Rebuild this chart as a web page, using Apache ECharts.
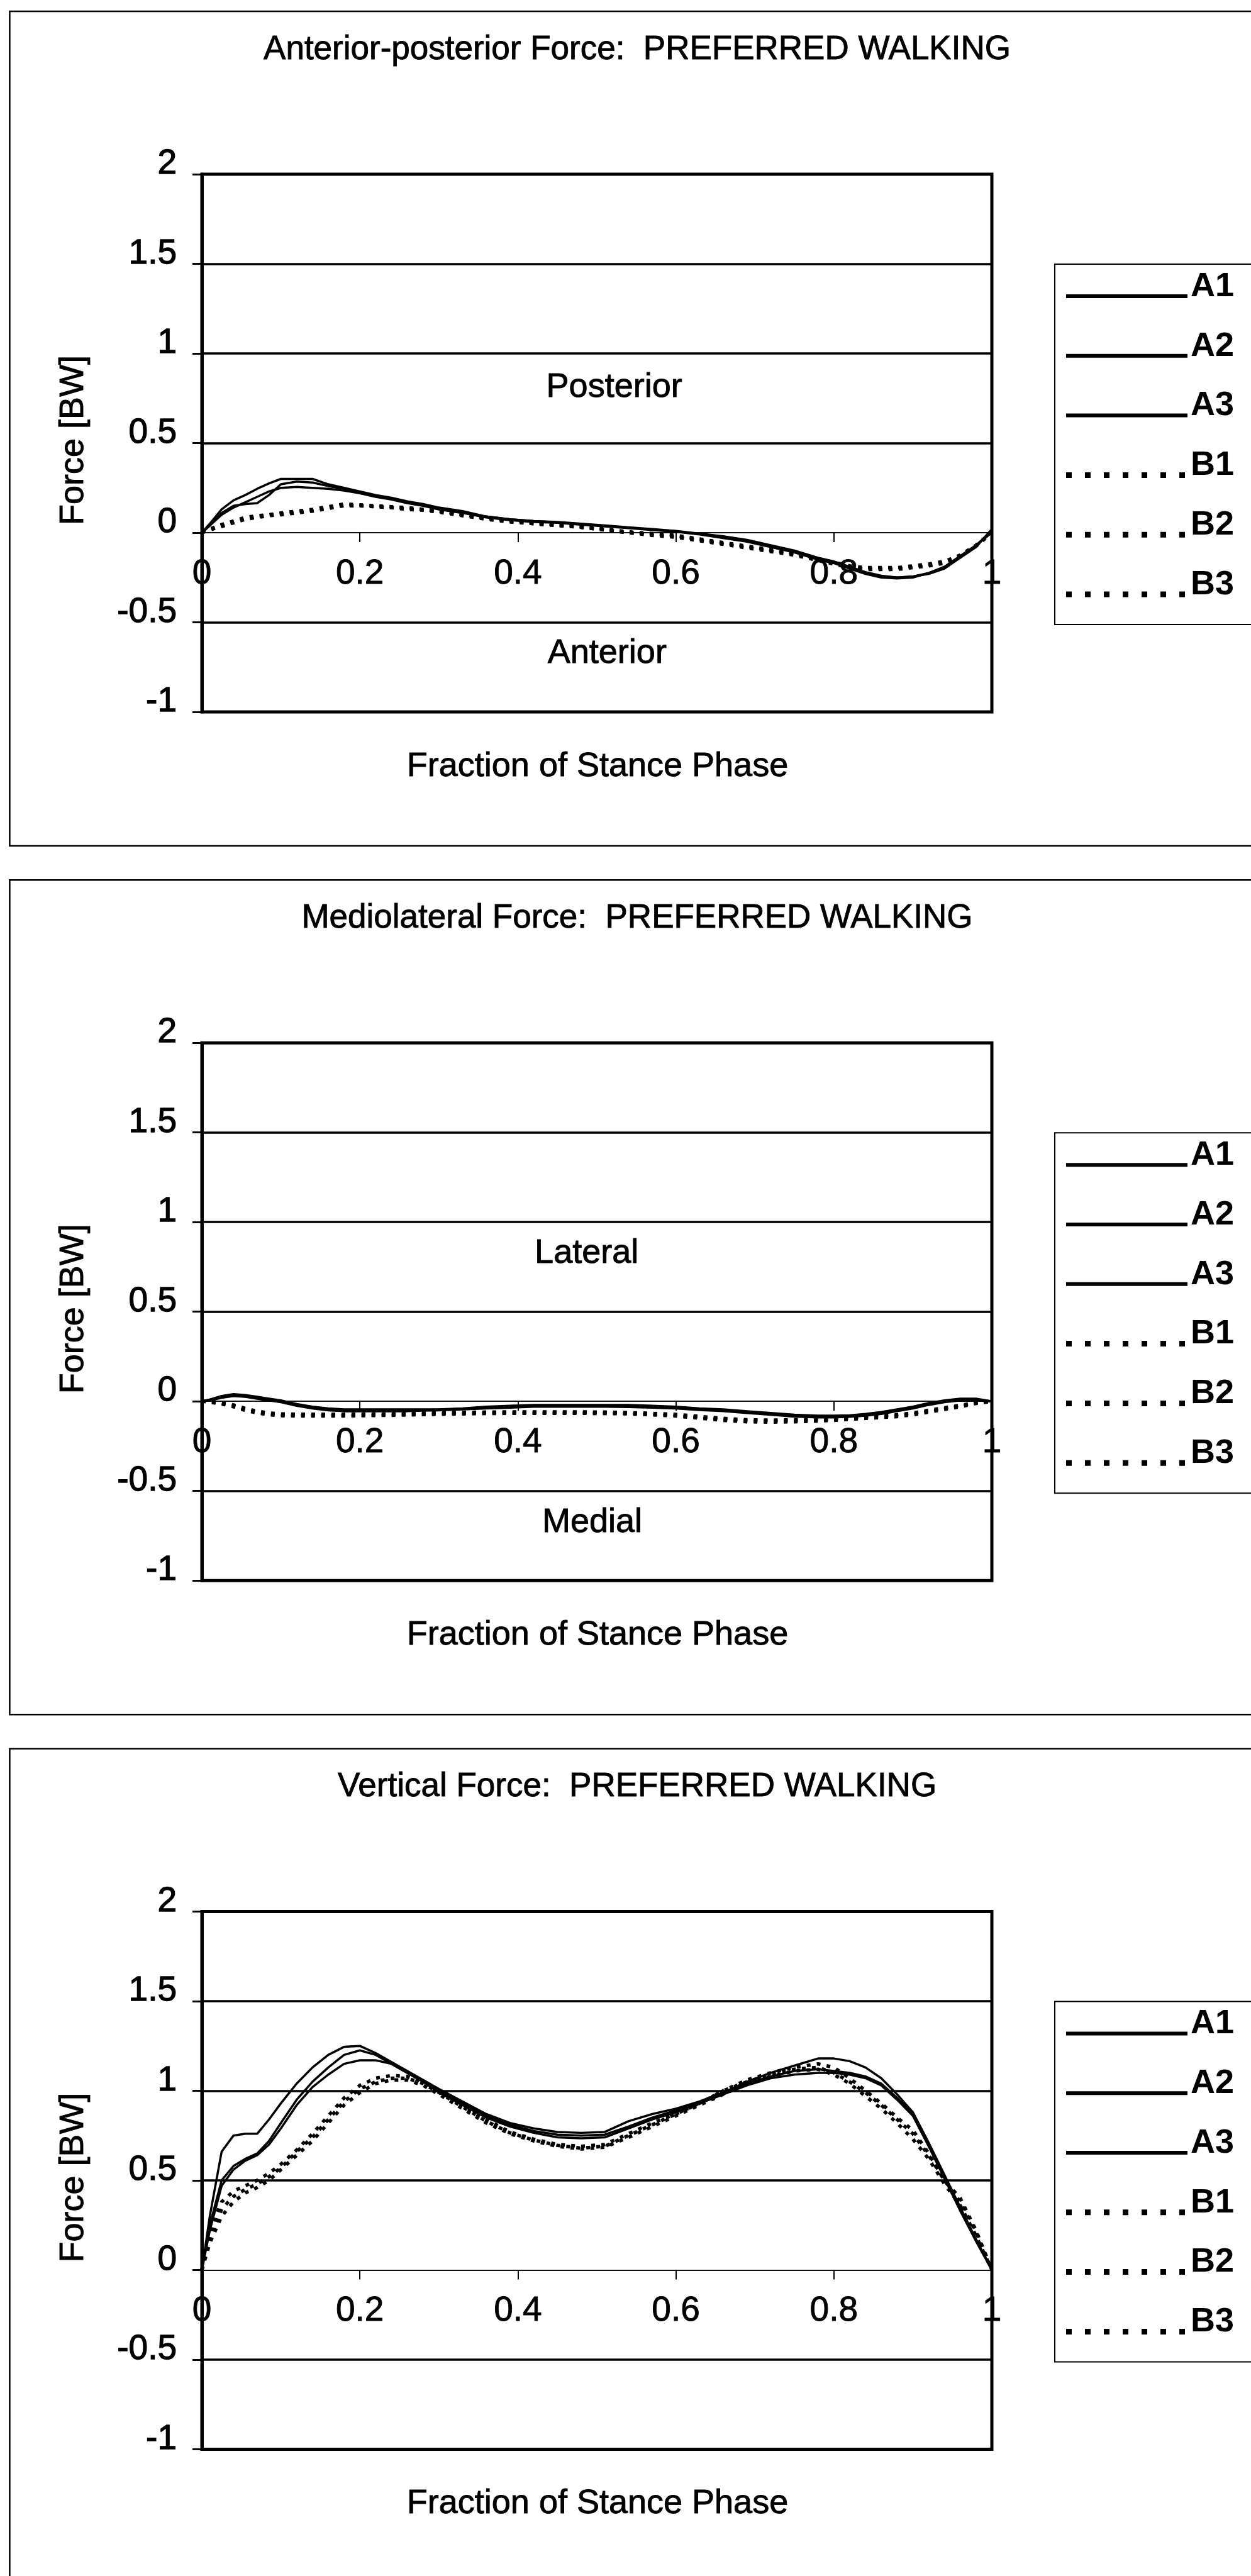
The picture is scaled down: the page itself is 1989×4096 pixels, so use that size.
<!DOCTYPE html>
<html>
<head>
<meta charset="utf-8">
<title>Ground reaction forces: preferred walking</title>
<script src="https://cdn.jsdelivr.net/npm/echarts@6/dist/echarts.min.js"></script>
<style>
  html, body { margin: 0; padding: 0; background: #fff; }
  #chart { width: 1989px; height: 4096px; }
</style>
</head>
<body>
<div id="chart"></div>
<script>
// Fraction of stance phase at which every trial is sampled
const stancePhase = [0, 0.01, 0.025, 0.04, 0.055, 0.07, 0.085, 0.1, 0.12, 0.14, 0.16, 0.18, 0.2, 0.22, 0.24, 0.26, 0.28, 0.3,
  0.33, 0.36, 0.39, 0.42, 0.45, 0.48, 0.51, 0.54, 0.57, 0.6, 0.63, 0.66, 0.69, 0.72, 0.75, 0.78, 0.8, 0.82, 0.84, 0.86,
  0.88, 0.9, 0.92, 0.94, 0.96, 0.98, 1];

const seriesNames = ['A1', 'A2', 'A3', 'B1', 'B2', 'B3'];

// Anterior-posterior force [BW]
const apA1 = [0, 0.05, 0.13, 0.18, 0.21, 0.245, 0.275, 0.30, 0.30, 0.30, 0.27, 0.25, 0.23, 0.21, 0.195, 0.175, 0.16, 0.14,
  0.12, 0.09, 0.075, 0.065, 0.06, 0.05, 0.04, 0.03, 0.02, 0.01, -0.005, -0.02, -0.04, -0.07, -0.10, -0.14, -0.16, -0.19, -0.22, -0.24,
  -0.25, -0.245, -0.23, -0.20, -0.14, -0.08, 0.02];
const apA2 = [0, 0.04, 0.11, 0.15, 0.16, 0.165, 0.21, 0.27, 0.285, 0.28, 0.26, 0.245, 0.225, 0.205, 0.19, 0.17, 0.155, 0.135,
  0.115, 0.09, 0.075, 0.065, 0.058, 0.048, 0.038, 0.028, 0.018, 0.008, -0.008, -0.025, -0.045, -0.075, -0.105, -0.145, -0.165, -0.195, -0.225, -0.245,
  -0.25, -0.245, -0.225, -0.195, -0.135, -0.07, 0.01];
const apA3 = [0, 0.04, 0.10, 0.14, 0.17, 0.20, 0.23, 0.25, 0.255, 0.25, 0.245, 0.235, 0.22, 0.20, 0.185, 0.165, 0.15, 0.13,
  0.11, 0.085, 0.07, 0.06, 0.055, 0.045, 0.035, 0.025, 0.015, 0.005, -0.01, -0.03, -0.05, -0.08, -0.11, -0.15, -0.17, -0.20, -0.23, -0.25,
  -0.255, -0.25, -0.225, -0.19, -0.13, -0.07, 0];
const apB1 = [0, 0.02, 0.04, 0.06, 0.08, 0.09, 0.10, 0.105, 0.115, 0.125, 0.14, 0.155, 0.15, 0.145, 0.14, 0.135, 0.13, 0.12,
  0.10, 0.08, 0.065, 0.05, 0.04, 0.03, 0.015, 0, -0.01, -0.02, -0.04, -0.06, -0.08, -0.10, -0.12, -0.15, -0.17, -0.19, -0.20, -0.20,
  -0.20, -0.19, -0.18, -0.165, -0.13, -0.07, 0];
const apB2 = [0, 0.02, 0.045, 0.065, 0.085, 0.095, 0.10, 0.11, 0.12, 0.13, 0.145, 0.16, 0.155, 0.15, 0.145, 0.14, 0.13, 0.12,
  0.10, 0.08, 0.07, 0.055, 0.045, 0.035, 0.02, 0.005, -0.005, -0.015, -0.035, -0.055, -0.075, -0.095, -0.115, -0.145, -0.165, -0.185, -0.195, -0.195,
  -0.195, -0.185, -0.175, -0.16, -0.125, -0.07, 0];
const apB3 = [0, 0.015, 0.035, 0.055, 0.075, 0.085, 0.095, 0.10, 0.11, 0.12, 0.135, 0.15, 0.15, 0.145, 0.14, 0.13, 0.125, 0.115,
  0.095, 0.075, 0.06, 0.05, 0.04, 0.03, 0.015, 0, -0.015, -0.025, -0.045, -0.065, -0.085, -0.105, -0.125, -0.155, -0.175, -0.195, -0.205, -0.205,
  -0.205, -0.195, -0.185, -0.17, -0.135, -0.075, 0];

// Mediolateral force [BW]
const mlA1 = [0, 0.01, 0.03, 0.04, 0.035, 0.025, 0.015, 0.005, -0.015, -0.03, -0.04, -0.045, -0.045, -0.045, -0.045, -0.045, -0.045, -0.045,
  -0.04, -0.03, -0.025, -0.02, -0.02, -0.02, -0.02, -0.02, -0.025, -0.03, -0.04, -0.045, -0.055, -0.065, -0.075, -0.08, -0.08, -0.078, -0.07, -0.06,
  -0.045, -0.03, -0.01, 0.005, 0.015, 0.015, 0];
const mlA2 = [0, 0.01, 0.025, 0.035, 0.03, 0.02, 0.01, 0, -0.02, -0.035, -0.045, -0.05, -0.05, -0.05, -0.05, -0.05, -0.048, -0.046,
  -0.042, -0.035, -0.03, -0.025, -0.025, -0.025, -0.025, -0.028, -0.03, -0.035, -0.045, -0.05, -0.06, -0.07, -0.08, -0.085, -0.085, -0.082, -0.075, -0.065,
  -0.05, -0.035, -0.015, 0, 0.01, 0.01, 0];
const mlA3 = [0, 0.005, 0.02, 0.03, 0.025, 0.015, 0.005, -0.005, -0.025, -0.04, -0.05, -0.055, -0.055, -0.055, -0.055, -0.055, -0.052, -0.05,
  -0.045, -0.04, -0.035, -0.03, -0.03, -0.03, -0.03, -0.032, -0.035, -0.04, -0.048, -0.055, -0.065, -0.075, -0.085, -0.09, -0.09, -0.086, -0.08, -0.07,
  -0.055, -0.04, -0.02, -0.005, 0.005, 0.005, 0];
const mlB1 = [0, 0, -0.01, -0.025, -0.045, -0.06, -0.07, -0.075, -0.077, -0.077, -0.077, -0.077, -0.076, -0.075, -0.074, -0.072, -0.07, -0.068,
  -0.065, -0.063, -0.062, -0.062, -0.062, -0.062, -0.063, -0.066, -0.07, -0.076, -0.088, -0.1, -0.108, -0.11, -0.108, -0.104, -0.1, -0.095, -0.09, -0.085,
  -0.08, -0.07, -0.055, -0.04, -0.025, -0.01, 0];
const mlB2 = [0, -0.005, -0.015, -0.03, -0.05, -0.065, -0.075, -0.08, -0.082, -0.082, -0.082, -0.082, -0.08, -0.079, -0.078, -0.076, -0.074, -0.072,
  -0.07, -0.068, -0.067, -0.067, -0.067, -0.067, -0.068, -0.07, -0.075, -0.082, -0.094, -0.106, -0.114, -0.116, -0.114, -0.11, -0.106, -0.1, -0.095, -0.09,
  -0.085, -0.075, -0.06, -0.045, -0.03, -0.012, 0];
const mlB3 = [0, 0, -0.008, -0.02, -0.04, -0.055, -0.065, -0.07, -0.072, -0.072, -0.072, -0.072, -0.071, -0.07, -0.07, -0.068, -0.066, -0.064,
  -0.062, -0.06, -0.059, -0.059, -0.059, -0.059, -0.06, -0.063, -0.067, -0.073, -0.084, -0.095, -0.103, -0.105, -0.103, -0.1, -0.096, -0.09, -0.085, -0.08,
  -0.075, -0.065, -0.05, -0.036, -0.022, -0.008, 0];

// Vertical force [BW]
const vA1 = [0, 0.30, 0.66, 0.75, 0.76, 0.76, 0.84, 0.93, 1.04, 1.13, 1.20, 1.245, 1.25, 1.21, 1.16, 1.11, 1.06, 1.01,
  0.94, 0.87, 0.82, 0.79, 0.77, 0.765, 0.77, 0.83, 0.87, 0.90, 0.94, 0.99, 1.05, 1.10, 1.14, 1.18, 1.18, 1.165, 1.13, 1.07,
  0.98, 0.88, 0.71, 0.53, 0.35, 0.17, 0];
const vA2 = [0, 0.25, 0.50, 0.58, 0.62, 0.65, 0.72, 0.82, 0.95, 1.05, 1.13, 1.20, 1.225, 1.20, 1.15, 1.10, 1.05, 1.00,
  0.93, 0.86, 0.81, 0.775, 0.755, 0.75, 0.755, 0.80, 0.85, 0.89, 0.93, 0.98, 1.04, 1.08, 1.11, 1.12, 1.11, 1.10, 1.08, 1.04,
  0.96, 0.87, 0.70, 0.52, 0.34, 0.17, 0];
const vA3 = [0, 0.22, 0.47, 0.56, 0.61, 0.64, 0.70, 0.79, 0.92, 1.02, 1.09, 1.15, 1.17, 1.17, 1.15, 1.10, 1.05, 0.99,
  0.92, 0.85, 0.80, 0.765, 0.74, 0.735, 0.74, 0.79, 0.84, 0.88, 0.93, 0.98, 1.03, 1.07, 1.09, 1.10, 1.10, 1.09, 1.07, 1.03,
  0.95, 0.86, 0.69, 0.51, 0.33, 0.16, 0];
const vB1 = [0, 0.22, 0.38, 0.44, 0.47, 0.50, 0.54, 0.59, 0.67, 0.76, 0.86, 0.96, 1.03, 1.07, 1.085, 1.08, 1.05, 1.00,
  0.92, 0.84, 0.77, 0.73, 0.70, 0.69, 0.70, 0.76, 0.82, 0.87, 0.93, 1.00, 1.06, 1.10, 1.13, 1.15, 1.13, 1.07, 1.00, 0.93,
  0.85, 0.78, 0.65, 0.50, 0.40, 0.22, 0];
const vB2 = [0, 0.18, 0.34, 0.41, 0.45, 0.48, 0.52, 0.57, 0.66, 0.74, 0.84, 0.94, 1.01, 1.05, 1.07, 1.07, 1.04, 0.99,
  0.91, 0.83, 0.765, 0.725, 0.695, 0.68, 0.69, 0.75, 0.81, 0.87, 0.93, 1.00, 1.05, 1.09, 1.12, 1.13, 1.10, 1.05, 0.99, 0.92,
  0.84, 0.76, 0.64, 0.50, 0.38, 0.21, 0];
const vB3 = [0, 0.15, 0.30, 0.38, 0.43, 0.46, 0.50, 0.56, 0.64, 0.72, 0.82, 0.92, 0.99, 1.04, 1.06, 1.06, 1.03, 0.98,
  0.90, 0.82, 0.76, 0.72, 0.69, 0.675, 0.685, 0.74, 0.80, 0.86, 0.92, 0.98, 1.04, 1.08, 1.11, 1.12, 1.09, 1.04, 0.97, 0.90,
  0.82, 0.73, 0.62, 0.48, 0.36, 0.19, 0];

const panelTitles = [
  'Anterior-posterior Force:  PREFERRED WALKING',
  'Mediolateral Force:  PREFERRED WALKING',
  'Vertical Force:  PREFERRED WALKING'
];
const panelSeries = [
  [apA1, apA2, apA3, apB1, apB2, apB3],
  [mlA1, mlA2, mlA3, mlB1, mlB2, mlB3],
  [vA1, vA2, vA3, vB1, vB2, vB3]
];
// Direction notes written inside the plot areas: [text, stance fraction, force]
const directionNotes = [
  [['Posterior', 0.522, 0.81], ['Anterior', 0.513, -0.673]],
  [['Lateral', 0.487, 0.825], ['Medial', 0.494, -0.678]],
  []
];
const xAxisTitle = 'Fraction of Stance Phase';
const yAxisTitle = 'Force [BW]';
const forceMin = -1, forceMax = 2, forceStep = 0.5;
const phaseMin = 0, phaseMax = 1, phaseStep = 0.2;

// ---- layout ----
const FONT = '"Liberation Sans", Arial, Helvetica, sans-serif';
const STEP = 1381.2;          // vertical distance between the three panels
const PLOT = { left: 321, top: 277, width: 1256, height: 855 };
const FS = 55;
const INK = 0.9;              // thin outline that gives the lettering its printed weight
// the phase axis runs along force = 0
const zeroLift = PLOT.height * (0 - forceMin) / (forceMax - forceMin);

// legend keys: a solid bar or a row of square dots, drawn in a 193 x 60 box
const KEY_SOLID = 'path://M0,0 M193,60 M0,42 L193,42 L193,48 L0,48 Z';
const KEY_DOTS = 'path://M0,0 M193,60 ' +
  [0, 30, 60, 90, 120, 150, 180].map(x => `M${x},40.5 L${x + 9},40.5 L${x + 9},49.5 L${x},49.5 Z`).join(' ');

const chart = echarts.init(document.getElementById('chart'), null, { renderer: 'canvas' });

const grids = [], xAxes = [], yAxes = [], series = [], legends = [], graphics = [];

function textEl(text, x, y, size, extra) {
  return Object.assign({
    type: 'text', silent: true, x: x, y: y,
    style: {
      text: text, font: size + 'px ' + FONT, fill: '#000', stroke: '#000', lineWidth: INK,
      textAlign: 'center', textVerticalAlign: 'middle'
    }
  }, extra || {});
}

panelTitles.forEach((title, k) => {
  const off = k * STEP;
  grids.push({
    left: PLOT.left, top: PLOT.top + off, width: PLOT.width, height: PLOT.height,
    show: true, borderColor: '#000', borderWidth: 5, backgroundColor: 'transparent'
  });
  xAxes.push({
    gridIndex: k, type: 'value', min: phaseMin, max: phaseMax, interval: phaseStep,
    position: 'bottom', offset: -zeroLift,
    axisLine: { show: true, onZero: false, lineStyle: { color: '#111', width: 2 } },
    axisTick: { show: true, length: 15, lineStyle: { color: '#000', width: 2 } },
    axisLabel: {
      fontFamily: FONT, fontSize: FS, color: '#000', margin: 38, showMinLabel: true, showMaxLabel: true,
      textBorderColor: '#000', textBorderWidth: INK
    },
    splitLine: { show: false }
  });
  yAxes.push({
    gridIndex: k, type: 'value', min: forceMin, max: forceMax, interval: forceStep,
    axisLine: { show: true, onZero: false, lineStyle: { color: '#000', width: 5 } },
    axisTick: { show: true, length: 15, lineStyle: { color: '#000', width: 3 } },
    axisLabel: {
      fontFamily: FONT, fontSize: FS, color: '#000', margin: 40, verticalAlign: 'bottom', lineHeight: 32,
      textBorderColor: '#000', textBorderWidth: INK * 1.4
    },
    splitLine: { show: true, lineStyle: { width: 3.5, color: ['#000', '#000', 'rgba(0,0,0,0)', '#000', '#000', '#000', '#000'] } }
  });
  panelSeries[k].forEach((vals, i) => {
    const dotted = i >= 3;
    series.push({
      type: 'line', name: seriesNames[i], xAxisIndex: k, yAxisIndex: k,
      data: stancePhase.map((x, j) => [x, vals[j]]),
      symbol: 'none', smooth: false, silent: true, animation: false,
      lineStyle: dotted ? { color: '#000', width: 5.5, type: [6, 10] } : { color: '#000', width: 3.5 },
      itemStyle: { color: '#000' },
      z: dotted ? 2 : 3
    });
  });
  legends.push({
    orient: 'vertical', left: 1677, top: 420 + off,
    padding: [6, 28, 33, 18], itemGap: 34.8, itemWidth: 193, itemHeight: 60,
    borderColor: '#000', borderWidth: 2, backgroundColor: '#fff',
    selectedMode: false,
    textStyle: { fontFamily: FONT, fontSize: 54, fontWeight: 'bold', color: '#000', lineHeight: 56 },
    itemStyle: { color: '#000', borderWidth: 0 },
    data: seriesNames.map((n, i) => ({ name: n, icon: i < 3 ? KEY_SOLID : KEY_DOTS }))
  });
  // panel frame
  graphics.push({
    type: 'rect', silent: true, z: 0,
    shape: { x: 15.4, y: 18 + off, width: 2100, height: 1327 },
    style: { fill: null, stroke: '#000', lineWidth: 2.5 }
  });
  graphics.push(textEl(title, 1013, 79 + off, 53));
  graphics.push(textEl(xAxisTitle, 950, 1219 + off, 54));
  graphics.push(textEl(yAxisTitle, 117, 700 + off, 54, { rotation: Math.PI / 2 }));
});

chart.setOption({
  animation: false,
  backgroundColor: '#fff',
  grid: grids, xAxis: xAxes, yAxis: yAxes, series: series, legend: legends, graphic: graphics
});

// direction notes placed through each panel's own scales
const notes = [];
directionNotes.forEach((list, k) => {
  list.forEach(([text, x, y]) => {
    const p = chart.convertToPixel({ gridIndex: k }, [x, y]);
    notes.push(textEl(text, p[0], p[1], 54));
  });
});
chart.setOption({ graphic: graphics.concat(notes) });
</script>
</body>
</html>
